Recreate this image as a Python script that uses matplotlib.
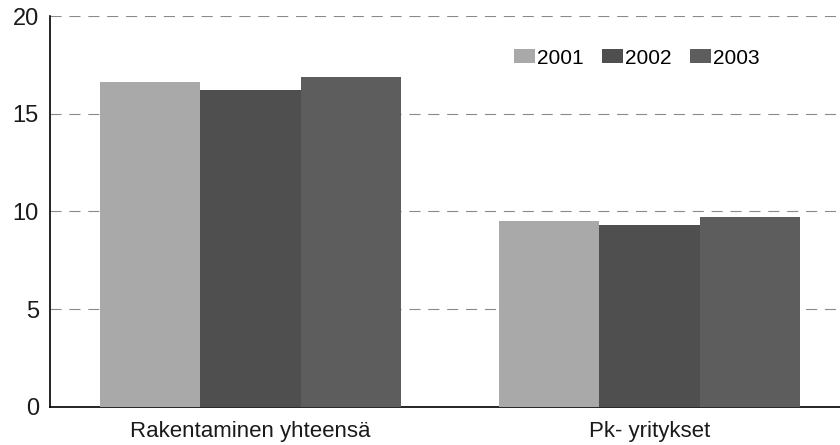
import matplotlib.pyplot as plt
import numpy as np

plt.rcParams['font.family'] = ['Liberation Sans', 'DejaVu Sans']

categories = ['Rakentaminen yhteensä', 'Pk- yritykset']
years = ['2001', '2002', '2003']
values_2001 = [16.6, 9.5]
values_2002 = [16.2, 9.3]
values_2003 = [16.9, 9.7]
colors = ['#a9a9a9', '#4f4f4f', '#5d5d5d']

fig = plt.figure(figsize=(8.4, 4.45), dpi=100)
ax = fig.add_axes([50 / 840, 1 - 406.7 / 445, 1 - 50 / 840, (406.7 - 16) / 445])

x = np.arange(len(categories))
w = 0.252
for i, (vals, c, lab) in enumerate(zip([values_2001, values_2002, values_2003], colors, years)):
    ax.bar(x + (i - 1) * w, vals, w, color=c, label=lab, zorder=3)

ax.set_ylim(0, 20)
ax.set_xlim(-0.5025, 1.477)
ax.set_yticks([0, 5, 10, 15, 20])
ax.set_xticks(x)
ax.set_xticklabels(categories)
ax.tick_params(axis='both', length=0, colors='#1a1a1a')
ax.tick_params(axis='y', pad=8, labelsize=17)
ax.tick_params(axis='x', pad=10, labelsize=16)
ax.yaxis.grid(True, linestyle=(0, (10, 7)), color='#8a8a8a', linewidth=0.8, zorder=0)
for s in ['top', 'right']:
    ax.spines[s].set_visible(False)
ax.spines['left'].set_linewidth(1.2)
ax.spines['bottom'].set_linewidth(1.2)

ax.legend(loc='center', bbox_to_anchor=(637 / 840, 1 - 58 / 445), bbox_transform=fig.transFigure,
          ncol=3, frameon=False, fontsize=15, handlelength=1.0, handleheight=0.65,
          handletextpad=0.1, columnspacing=0.9)

fig.savefig('out.png', dpi=100)
